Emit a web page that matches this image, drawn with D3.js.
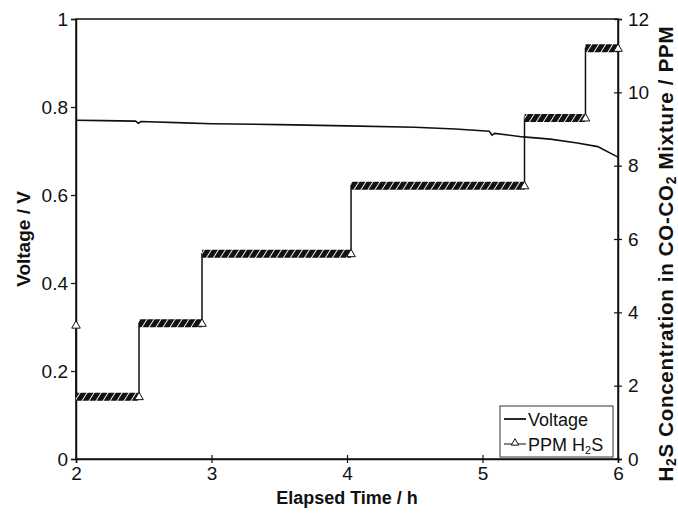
<!DOCTYPE html>
<html>
<head>
<meta charset="utf-8">
<script src="https://cdn.jsdelivr.net/npm/d3@7"></script>
<style>
  body { margin: 0; background: #fff; }
  text { font-family: "Liberation Sans", Arial, sans-serif; fill: #111; }
</style>
</head>
<body>
<svg id="chart" width="678" height="514"></svg>
<script>
// voltage trace (time in h, volts)
const voltTime = [2.0, 2.2, 2.44, 2.46, 2.48, 2.8, 3.0, 3.5, 4.0, 4.5, 4.8, 5.05, 5.07, 5.09, 5.3, 5.5, 5.7, 5.85, 6.0];
const voltage  = [0.770, 0.769, 0.768, 0.763, 0.767, 0.764, 0.762, 0.760, 0.757, 0.754, 0.750, 0.745, 0.736, 0.740, 0.732, 0.727, 0.718, 0.710, 0.686];

// H2S steps (time in h, ppm)
const ppmTime = [2.0, 2.0, 2.465, 2.465, 2.93, 2.93, 4.03, 4.03, 5.31, 5.31, 5.76, 5.76, 6.0];
const ppmVal  = [3.65, 1.7, 1.7, 3.7, 3.7, 5.6, 5.6, 7.45, 7.45, 9.3, 9.3, 11.2, 11.2];

const xTicks = [2, 3, 4, 5, 6];
const yTicks = [0, 0.2, 0.4, 0.6, 0.8, 1];
const y2Ticks = [0, 2, 4, 6, 8, 10, 12];

const svg = d3.select("#chart");
const L = 76, R = 618, T = 19, B = 459;

const x = d3.scaleLinear().domain([2, 6]).range([L, R]);
const y = d3.scaleLinear().domain([0, 1]).range([B, T]);
const y2 = d3.scaleLinear().domain([0, 12]).range([B, T]);

// hatch pattern for the dense marker runs
const defs = svg.append("defs");
const pat = defs.append("pattern")
  .attr("id", "hatch")
  .attr("patternUnits", "userSpaceOnUse")
  .attr("width", 7).attr("height", 8)
  .attr("patternTransform", "skewX(-32)");
pat.append("rect").attr("width", 7).attr("height", 8).attr("fill", "#111");
pat.append("line").attr("x1", 3.5).attr("x2", 3.5).attr("y1", 0).attr("y2", 8)
  .attr("stroke", "#fff").attr("stroke-width", 1.1);

// frame
svg.append("rect").attr("x", L).attr("y", T).attr("width", R - L).attr("height", B - T)
  .attr("fill", "none").attr("stroke", "#111").attr("stroke-width", 1.5);

// axes
const fs = "19px";
const gx = svg.append("g").attr("transform", `translate(0,${B})`)
  .call(d3.axisBottom(x).tickValues(xTicks).tickFormat(d3.format("d")).tickSize(4).tickPadding(4));
gx.selectAll(".tick line").attr("y1", -4);
const gy = svg.append("g").attr("transform", `translate(${L},0)`)
  .call(d3.axisLeft(y).tickValues(yTicks).tickFormat(d => d === 0 || d === 1 ? d3.format("d")(d) : d3.format(".1f")(d)).tickSize(5).tickPadding(3));
const gy2 = svg.append("g").attr("transform", `translate(${R},0)`)
  .call(d3.axisRight(y2).tickValues(y2Ticks).tickSize(4).tickPadding(6));
gy2.selectAll(".tick line").attr("x1", -4);
[gx, gy, gy2].forEach(g => {
  g.select(".domain").attr("stroke", "#111").attr("stroke-width", 1.5);
  g.selectAll(".tick line").attr("stroke", "#111").attr("stroke-width", 1.2);
  g.selectAll(".tick text").attr("font-size", fs).attr("fill", "#111")
    .attr("font-family", "Liberation Sans, Arial, sans-serif");
});

// PPM series: thin connecting line, hatched plateaus, triangle markers
const pts = ppmTime.map((t, i) => [t, ppmVal[i]]);
svg.append("path")
  .attr("d", d3.line().x(d => x(d[0])).y(d => y2(d[1]))(pts))
  .attr("fill", "none").attr("stroke", "#111").attr("stroke-width", 1.5);

const plateaus = [];
for (let i = 1; i < pts.length; i++) {
  if (pts[i][1] === pts[i - 1][1] && pts[i][0] !== pts[i - 1][0]) plateaus.push([pts[i - 1], pts[i]]);
}
svg.append("g").selectAll("path").data(plateaus).join("path")
  .attr("d", d => `M${x(d[0][0])},${y2(d[0][1])}H${x(d[1][0])}`)
  .attr("stroke", "url(#hatch)").attr("stroke-width", 8).attr("fill", "none");

const markPts = [pts[0]].concat(plateaus.map(p => p[1]));
const tri = d3.symbol().type(d3.symbolTriangle).size(32);
svg.append("g").selectAll("path").data(markPts).join("path")
  .attr("transform", d => `translate(${x(d[0])},${y2(d[1]) + 0.5})`)
  .attr("d", tri)
  .attr("fill", "#fff").attr("stroke", "#111").attr("stroke-width", 1);

// voltage line
svg.append("path")
  .attr("d", d3.line().x((d, i) => x(voltTime[i])).y(d => y(d))(voltage))
  .attr("fill", "none").attr("stroke", "#111").attr("stroke-width", 1.6);

// axis titles
svg.append("text").attr("x", (L + R) / 2).attr("y", 504).attr("text-anchor", "middle")
  .attr("font-size", "18px").attr("font-weight", "bold").text("Elapsed Time / h");
svg.append("text").attr("transform", `translate(30,${(T + B) / 2}) rotate(-90)`)
  .attr("text-anchor", "middle").attr("font-size", "19px").attr("font-weight", "bold").text("Voltage / V");
const rt = svg.append("text").attr("transform", `translate(673,254) rotate(-90)`)
  .attr("text-anchor", "middle").attr("font-size", "20.5px").attr("font-weight", "bold")
  .attr("textLength", 455).attr("lengthAdjust", "spacing");
rt.append("tspan").text("H");
rt.append("tspan").attr("font-size", "14px").attr("dy", 3).text("2");
rt.append("tspan").attr("dy", -3).text("S Concentration in CO-CO");
rt.append("tspan").attr("font-size", "14px").attr("dy", 3).text("2");
rt.append("tspan").attr("dy", -3).text(" Mixture / PPM");

// legend
const lg = svg.append("g");
lg.append("rect").attr("x", 500).attr("y", 406).attr("width", 113).attr("height", 51)
  .attr("fill", "#fff").attr("stroke", "#333").attr("stroke-width", 1);
lg.append("line").attr("x1", 504).attr("x2", 526).attr("y1", 419).attr("y2", 419)
  .attr("stroke", "#111").attr("stroke-width", 1.8);
lg.append("text").attr("x", 528).attr("y", 426).attr("font-size", "18px").text("Voltage");
lg.append("line").attr("x1", 504).attr("x2", 526).attr("y1", 444).attr("y2", 444)
  .attr("stroke", "#111").attr("stroke-width", 1);
lg.append("path").attr("transform", "translate(515,443)").attr("d", d3.symbol().type(d3.symbolTriangle).size(24))
  .attr("fill", "#fff").attr("stroke", "#111").attr("stroke-width", 1);
const lt = lg.append("text").attr("x", 528).attr("y", 451).attr("font-size", "18px");
lt.append("tspan").text("PPM H");
lt.append("tspan").attr("font-size", "11px").attr("dy", 3).text("2");
lt.append("tspan").attr("dy", -3).text("S");
</script>
</body>
</html>
